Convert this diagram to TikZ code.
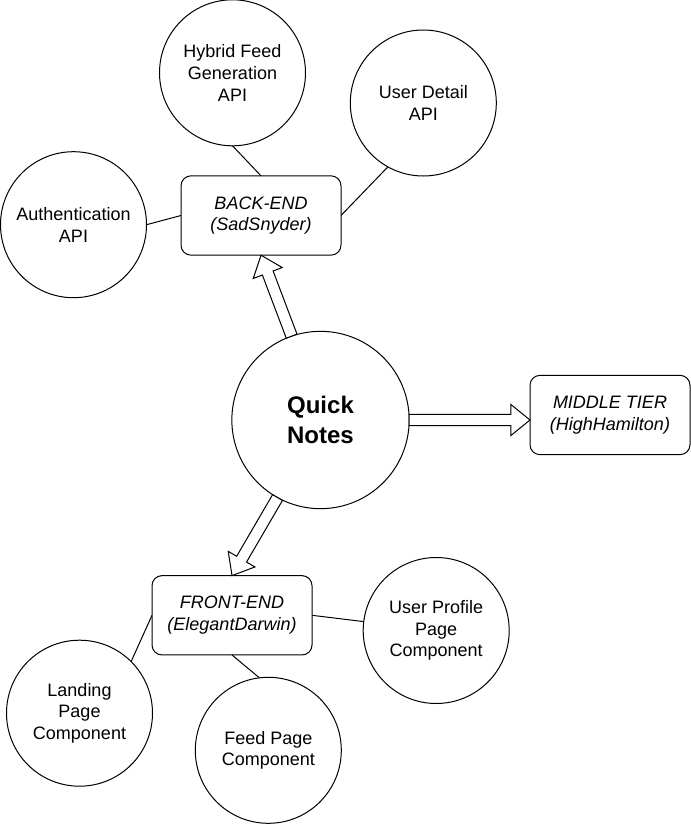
\documentclass[tikz,border=0pt]{standalone}
\usepackage{fontspec}
\setmainfont{Liberation Sans}
\usetikzlibrary{calc}
\tikzset{
  lbl/.style={align=center, font=\fontsize{13.5}{16.3}\selectfont},
  api/.style={lbl, draw=black, line width=0.75pt, circle, fill=white, inner sep=0pt, outer sep=0pt, minimum size=109.5pt},
  tier/.style={lbl, draw=black, line width=0.75pt, rectangle, rounded corners=7.5pt, fill=white, inner sep=0pt, outer sep=0pt, minimum width=120pt, minimum height=59.5pt, font=\fontsize{13.5}{16.3}\selectfont\itshape},
  hub/.style={draw=black, line width=0.75pt, circle, fill=white, inner sep=0pt, outer sep=0pt, minimum size=133pt, align=center, font=\fontsize{18}{22.5}\selectfont\bfseries},
  link/.style={draw=black, line width=0.75pt},
  flexstyle/.style={draw=black, fill=white, line width=0.75pt, line join=miter}
}
\newcommand\qnarrow[2]{%
  \coordinate (qnh) at ($(#2)!14.3pt!(#1)$);
  \draw[flexstyle] ($(#1)!4.3pt!90:(#2)$) -- ($(qnh)!4.3pt!90:(#2)$) -- ($(qnh)!11.6pt!90:(#2)$) -- (#2) -- ($(qnh)!11.6pt!-90:(#2)$) -- ($(qnh)!4.3pt!-90:(#2)$) -- ($(#1)!4.3pt!-90:(#2)$) -- cycle;
}
\begin{document}
\begin{tikzpicture}[x=0.75pt, y=-0.75pt]
\useasboundingbox (0,0) rectangle (691,824);
% hub
\node[hub] (qn) at (320.5,420) {Quick\\Notes};
% tiers
\node[tier] (be) at (261,215.5) {BACK-END\\(SadSnyder)};
\node[tier] (mt) at (610,415) {MIDDLE TIER\\(HighHamilton)};
\node[tier] (fe) at (232,615.3) {FRONT-END\\(ElegantDarwin)};
% back-end APIs
\node[api] (hyb) at (232.5,72.8) {Hybrid Feed\\Generation\\API};
\node[api] (ud) at (423.3,103) {User Detail\\API};
\node[api] (auth) at (73.5,224.7) {Authentication\\API};
% front-end components
\node[api] (up) at (436.2,630.5) {User Profile\\Page\\Component};
\node[api] (land) at (79.5,713.2) {Landing\\Page\\Component};
\node[api] (feed) at (268.3,750.3) {Feed Page\\Component};
% links
\draw[link] (hyb.south) -- (be.north);
\draw[link] (ud.241) -- (be.east);
\draw[link] (auth.east) -- (be.west);
\draw[link] (fe.east) -- (up.173);
\draw[link] (fe.west) -- (land.45);
\draw[link] (fe.south) -- (feed.97);
% big arrows
\coordinate (mtt) at (mt.west |- qn.east);
\qnarrow{qn.109}{be.south}
\qnarrow{qn.east}{mtt}
\qnarrow{qn.241}{fe.north}
\end{tikzpicture}
\end{document}
